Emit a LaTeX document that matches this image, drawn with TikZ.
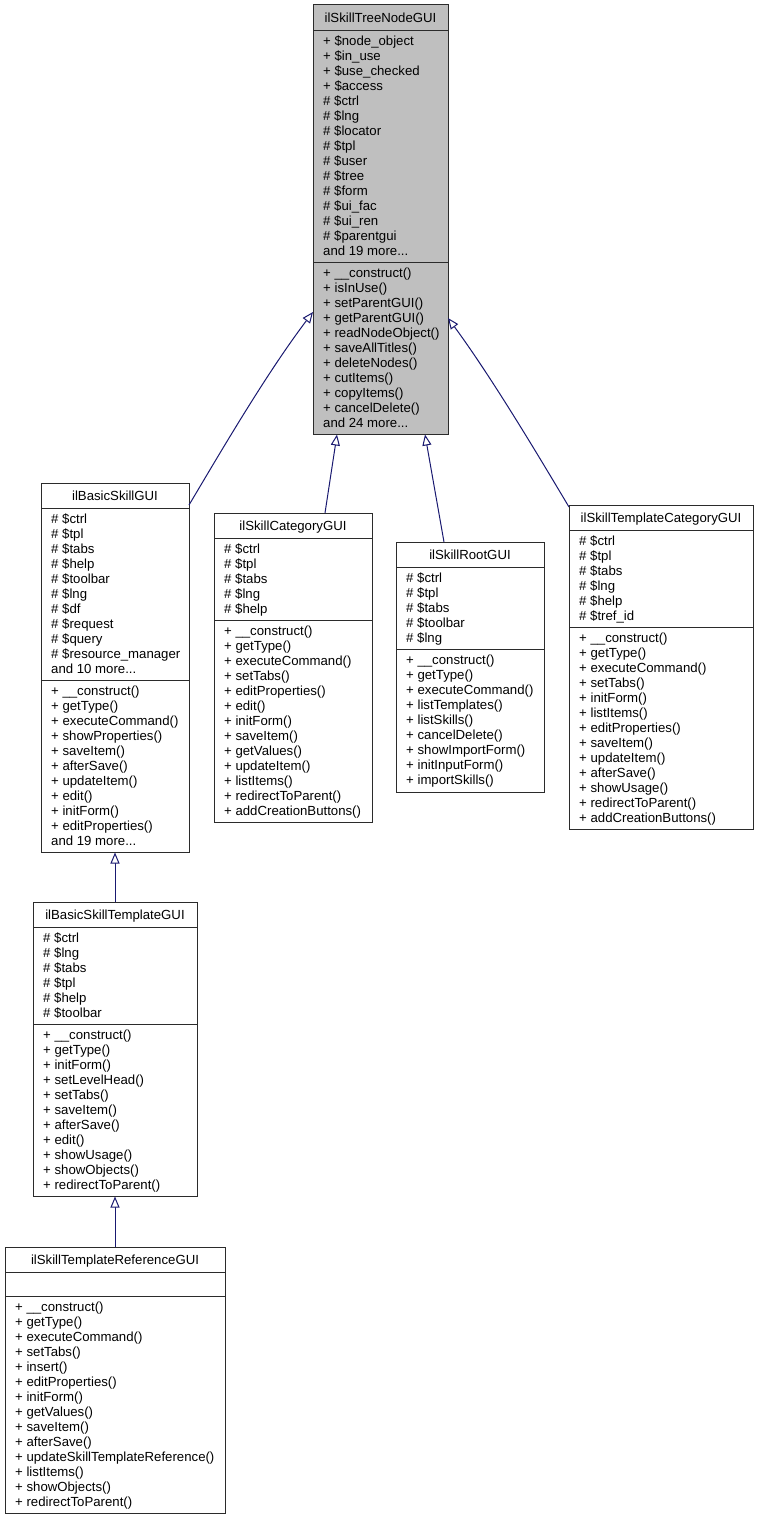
\documentclass[tikz,border=0pt]{standalone}
\usepackage{fontspec}
\setmainfont{Liberation Sans}
\usetikzlibrary{arrows.meta}
\definecolor{boxc}{HTML}{2B2B2B}
\definecolor{edgec}{HTML}{191970}
\definecolor{greyfill}{HTML}{BFBFBF}
\newcommand\umlfont{\fontsize{13.2}{15}\selectfont}
\newcommand\lnst{\rule[-4.5pt]{0pt}{15pt}}
\tikzset{
  box/.style={draw=boxc, line width=1pt, fill=white, anchor=north west, inner sep=0pt, outer sep=0pt},
  sect/.style={anchor=north west, inner sep=0pt, align=left, font=\umlfont},
  ttl/.style={anchor=base, inner sep=0pt, font=\umlfont},
  sepline/.style={draw=boxc, line width=1pt},
  inh/.style={draw=edgec, line width=1pt, -{Triangle[open, length=11pt, width=9pt, fill=white]}},
}
\begin{document}
\begin{tikzpicture}[x=1pt, y=-1pt]
\useasboundingbox (0,0) rectangle (758,1520);

% ---------- ilSkillTreeNodeGUI ----------
\node[box, fill=greyfill, minimum width=135pt, minimum height=429.5pt] (T) at (313,5) {};
\node[ttl] (Tt) at (380.5,22.5) {ilSkillTreeNodeGUI};
\draw[sepline] (313,30.5) -- (448,30.5);
\draw[sepline] (313,262.5) -- (448,262.5);
\node[sect] (Ta) at (323,35) {\lnst + \$node\_object\\\lnst + \$in\_use\\\lnst + \$use\_checked\\\lnst + \$access\\\lnst \# \$ctrl\\\lnst \# \$lng\\\lnst \# \$locator\\\lnst \# \$tpl\\\lnst \# \$user\\\lnst \# \$tree\\\lnst \# \$form\\\lnst \# \$ui\_fac\\\lnst \# \$ui\_ren\\\lnst \# \$parentgui\\\lnst and 19 more...};
\node[sect] (Tm) at (323,267) {\lnst + \_\_construct()\\\lnst + isInUse()\\\lnst + setParentGUI()\\\lnst + getParentGUI()\\\lnst + readNodeObject()\\\lnst + saveAllTitles()\\\lnst + deleteNodes()\\\lnst + cutItems()\\\lnst + copyItems()\\\lnst + cancelDelete()\\\lnst and 24 more...};

% ---------- ilBasicSkillGUI ----------
\node[box, minimum width=148pt, minimum height=369.5pt] (BS) at (41,483) {};
\node[ttl] (BSt) at (115,500.5) {ilBasicSkillGUI};
\draw[sepline] (41,508.5) -- (189,508.5);
\draw[sepline] (41,680.5) -- (189,680.5);
\node[sect] (BSa) at (51,513) {\lnst \# \$ctrl\\\lnst \# \$tpl\\\lnst \# \$tabs\\\lnst \# \$help\\\lnst \# \$toolbar\\\lnst \# \$lng\\\lnst \# \$df\\\lnst \# \$request\\\lnst \# \$query\\\lnst \# \$resource\_manager\\\lnst and 10 more...};
\node[sect] (BSm) at (51,685) {\lnst + \_\_construct()\\\lnst + getType()\\\lnst + executeCommand()\\\lnst + showProperties()\\\lnst + saveItem()\\\lnst + afterSave()\\\lnst + updateItem()\\\lnst + edit()\\\lnst + initForm()\\\lnst + editProperties()\\\lnst and 19 more...};

% ---------- ilSkillCategoryGUI ----------
\node[box, minimum width=158pt, minimum height=309.5pt] (C) at (214,513) {};
\node[ttl] (Ct) at (293,530.5) {ilSkillCategoryGUI};
\draw[sepline] (214,538.5) -- (372,538.5);
\draw[sepline] (214,620.5) -- (372,620.5);
\node[sect] (Ca) at (224,543) {\lnst \# \$ctrl\\\lnst \# \$tpl\\\lnst \# \$tabs\\\lnst \# \$lng\\\lnst \# \$help};
\node[sect] (Cm) at (224,625) {\lnst + \_\_construct()\\\lnst + getType()\\\lnst + executeCommand()\\\lnst + setTabs()\\\lnst + editProperties()\\\lnst + edit()\\\lnst + initForm()\\\lnst + saveItem()\\\lnst + getValues()\\\lnst + updateItem()\\\lnst + listItems()\\\lnst + redirectToParent()\\\lnst + addCreationButtons()};

% ---------- ilSkillRootGUI ----------
\node[box, minimum width=148pt, minimum height=250pt] (R) at (396,542) {};
\node[ttl] (Rt) at (470,559.5) {ilSkillRootGUI};
\draw[sepline] (396,567.5) -- (544,567.5);
\draw[sepline] (396,649.5) -- (544,649.5);
\node[sect] (Ra) at (406,572) {\lnst \# \$ctrl\\\lnst \# \$tpl\\\lnst \# \$tabs\\\lnst \# \$toolbar\\\lnst \# \$lng};
\node[sect] (Rm) at (406,654) {\lnst + \_\_construct()\\\lnst + getType()\\\lnst + executeCommand()\\\lnst + listTemplates()\\\lnst + listSkills()\\\lnst + cancelDelete()\\\lnst + showImportForm()\\\lnst + initInputForm()\\\lnst + importSkills()};

% ---------- ilSkillTemplateCategoryGUI ----------
\node[box, minimum width=184pt, minimum height=324.5pt] (TC) at (569,505) {};
\node[ttl] (TCt) at (661,522.5) {ilSkillTemplateCategoryGUI};
\draw[sepline] (569,530.5) -- (753,530.5);
\draw[sepline] (569,627.5) -- (753,627.5);
\node[sect] (TCa) at (579,535) {\lnst \# \$ctrl\\\lnst \# \$tpl\\\lnst \# \$tabs\\\lnst \# \$lng\\\lnst \# \$help\\\lnst \# \$tref\_id};
\node[sect] (TCm) at (579,632) {\lnst + \_\_construct()\\\lnst + getType()\\\lnst + executeCommand()\\\lnst + setTabs()\\\lnst + initForm()\\\lnst + listItems()\\\lnst + editProperties()\\\lnst + saveItem()\\\lnst + updateItem()\\\lnst + afterSave()\\\lnst + showUsage()\\\lnst + redirectToParent()\\\lnst + addCreationButtons()};

% ---------- ilBasicSkillTemplateGUI ----------
\node[box, minimum width=164pt, minimum height=294.5pt] (BT) at (33,902) {};
\node[ttl] (BTt) at (115,919.5) {ilBasicSkillTemplateGUI};
\draw[sepline] (33,927.5) -- (197,927.5);
\draw[sepline] (33,1024.5) -- (197,1024.5);
\node[sect] (BTa) at (43,932) {\lnst \# \$ctrl\\\lnst \# \$lng\\\lnst \# \$tabs\\\lnst \# \$tpl\\\lnst \# \$help\\\lnst \# \$toolbar};
\node[sect] (BTm) at (43,1029) {\lnst + \_\_construct()\\\lnst + getType()\\\lnst + initForm()\\\lnst + setLevelHead()\\\lnst + setTabs()\\\lnst + saveItem()\\\lnst + afterSave()\\\lnst + edit()\\\lnst + showUsage()\\\lnst + showObjects()\\\lnst + redirectToParent()};

% ---------- ilSkillTemplateReferenceGUI ----------
\node[box, minimum width=220pt, minimum height=266.5pt] (RF) at (5,1247) {};
\node[ttl] (RFt) at (115,1264.5) {ilSkillTemplateReferenceGUI};
\draw[sepline] (5,1272.5) -- (225,1272.5);
\draw[sepline] (5,1296.5) -- (225,1296.5);
\node[sect] (RFm) at (15,1301) {\lnst + \_\_construct()\\\lnst + getType()\\\lnst + executeCommand()\\\lnst + setTabs()\\\lnst + insert()\\\lnst + editProperties()\\\lnst + initForm()\\\lnst + getValues()\\\lnst + saveItem()\\\lnst + afterSave()\\\lnst + updateSkillTemplateReference()\\\lnst + listItems()\\\lnst + showObjects()\\\lnst + redirectToParent()};

% ---------- inheritance connectors ----------
\draw[inh] ([yshift=-22pt]BS.north east) .. controls (220,453) and (266,374) .. ([yshift=-307pt]T.north west);
\draw[inh] ([xshift=32pt]C.north) -- ([xshift=-43.5pt]T.south);
\draw[inh] ([xshift=-26pt]R.north) -- ([xshift=44.5pt]T.south);
\draw[inh] ([yshift=-2pt]TC.north west) .. controls (538,455) and (492,378) .. ([yshift=-313pt]T.north east);
\draw[inh] (BT.north) -- (BS.south);
\draw[inh] (RF.north) -- (BT.south);
\end{tikzpicture}
\end{document}
